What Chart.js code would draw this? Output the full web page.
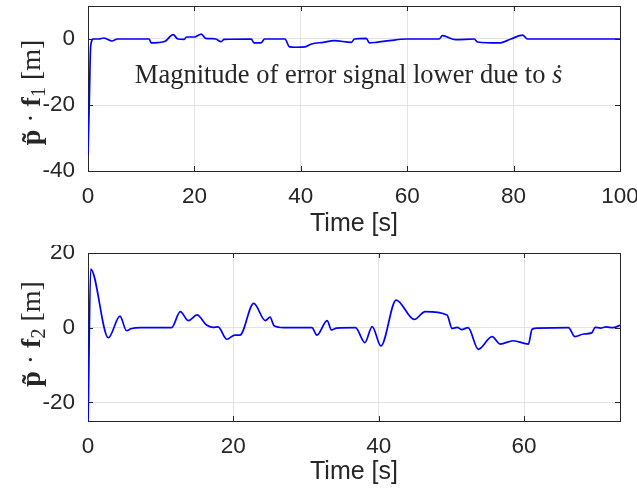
<!DOCTYPE html>
<html>
<head>
<meta charset="utf-8">
<script src="https://cdn.jsdelivr.net/npm/chart.js@4.4.0/dist/chart.umd.min.js"></script>
<style>
  body { margin: 0; background: #fff; }
  .box { position: absolute; left: 0; width: 637px; height: 245px; }
</style>
</head>
<body>
<div class="box" style="top:0"><canvas id="topChart"></canvas></div>
<div class="box" style="top:245px"><canvas id="bottomChart"></canvas></div>
<script>
// Datos
const time1 = [0, 0.25, 0.5, 1.0, 2, 3, 3.5, 4.5, 5.5, 8, 11.5, 11.9, 13, 14.5, 16, 16.9, 18.1, 18.5, 20, 21.3, 22.1, 23.3, 24, 25, 25.6, 30.7, 31.2, 32.5, 33.2, 37, 37.9, 39, 40.8, 42, 44.2, 46.3, 49.5, 50.1, 52.3, 52.9, 54.2, 56.7, 59.8, 66, 66.6, 69.1, 72.6, 73.2, 77.3, 79.5, 81.7, 82.6, 85, 100];
const error1 = [-35, -18.4, -2.2, 0, 0, 0.3, 0, -0.6, 0, 0, 0, -1.2, -1.1, -0.7, 1.3, 0, -0.1, 0.6, 0.6, 1.5, 0.2, 0.1, 0, -0.8, -0.1, 0, -1.2, -1.2, 0, 0, -2.4, -2.5, -2.4, -1.5, -1.0, -0.5, -1.0, 0, 0.2, -1.2, -1.0, -0.5, 0, 0, 1.0, -0.2, 0, -0.9, -1.2, 0, 1.2, 0, 0, 0];

const time2 = [0, 0.37, 2.8, 4.4, 5.3, 5.9, 7.2, 11.5, 12.7, 13.8, 15.0, 16.3, 17.2, 17.9, 19.1, 20.2, 20.9, 22.8, 24.4, 25.05, 25.6, 26.9, 30.8, 31.5, 32.9, 33.5, 34.2, 36.8, 38.1, 39.1, 40.3, 42.4, 44.9, 46.4, 49.4, 50.1, 50.8, 51.4, 52.3, 53.7, 55.6, 56.7, 58.5, 60.6, 61.1, 61.9, 66.1, 67.0, 68.2, 69.3, 69.8, 70.5, 71.3, 72.2, 73.2];
const error2 = [-27, 15.7, -2.7, 3.1, -0.8, -0.3, 0, 0, 4.3, 1.9, 3.4, 0.7, 0.1, 0.2, -3.1, -2.0, -2.0, 6.5, 1.9, 2.8, 0.5, 0, 0, -2.0, 1.9, -0.6, -0.1, 0, -4.0, 0.3, -4.9, 7.4, 2.2, 4.3, 3.4, -0.2, 0.1, -0.5, 0, -5.8, -2.4, -4.4, -3.5, -4.4, -0.4, -0.1, 0, -2.4, -1.7, -1.4, 0.1, -0.1, 0.2, 0, 0.6];

const xTicks1 = [0, 20, 40, 60, 80, 100];
const yTicks1 = [-40, -20, 0];
const xTicks2 = [0, 20, 40, 60];
const yTicks2 = [-20, 0, 20];

const annotText = 'Magnitude of error signal lower due to ';

const TEXT = '#262626';
const SANS = '"Liberation Sans", Arial, sans-serif';
const SERIF = '"Liberation Serif", "Times New Roman", serif';

// Caja de ejes con marcas hacia dentro (estilo MATLAB)
const boxPlugin = {
    id: 'box',
    beforeDatasetsDraw(chart) {
        const {ctx, chartArea: a, scales} = chart;
        ctx.save();
        ctx.strokeStyle = TEXT;
        ctx.lineWidth = 1;
        ctx.strokeRect(Math.round(a.left) + 0.5, Math.round(a.top) + 0.5,
            Math.round(a.right - a.left), Math.round(a.bottom - a.top));
        ctx.beginPath();
        scales.x.ticks.forEach(t => {
            const x = Math.round(scales.x.getPixelForValue(t.value)) + 0.5;
            ctx.moveTo(x, a.bottom); ctx.lineTo(x, a.bottom - 5);
            ctx.moveTo(x, a.top); ctx.lineTo(x, a.top + 5);
        });
        scales.y.ticks.forEach(t => {
            const y = Math.round(scales.y.getPixelForValue(t.value)) + 0.5;
            ctx.moveTo(a.left, y); ctx.lineTo(a.left + 5, y);
            ctx.moveTo(a.right, y); ctx.lineTo(a.right - 5, y);
        });
        ctx.stroke();
        ctx.restore();
    }
};

// Etiqueta del eje y con fuentes mezcladas
const yLabelPlugin = {
    id: 'yLabel',
    afterDraw(chart, args, opts) {
        const ctx = chart.ctx;
        const a = chart.chartArea;
        const parts = [
            {t: 'p\u0303', f: 'bold 28px ' + SERIF, dy: 0},
            {t: ' \u00b7 ', f: '28px ' + SERIF, dy: 0},
            {t: 'f', f: 'bold 28px ' + SERIF, dy: 0},
            {t: opts.sub, f: '20px ' + SERIF, dy: 5},
            {t: ' [m]', f: '28px ' + SERIF, dy: 0}
        ];
        ctx.save();
        let total = 0;
        parts.forEach(p => { ctx.font = p.f; p.w = ctx.measureText(p.t).width; total += p.w; });
        ctx.translate(40, (a.top + a.bottom) / 2 + opts.shift);
        ctx.rotate(-Math.PI / 2);
        ctx.fillStyle = TEXT;
        ctx.textBaseline = 'alphabetic';
        let x = -total / 2;
        parts.forEach(p => { ctx.font = p.f; ctx.fillText(p.t, x, p.dy); x += p.w; });
        ctx.restore();
    }
};

// Texto de anotación en el gráfico superior
const annotPlugin = {
    id: 'annot',
    afterDraw(chart, args, opts) {
        if (!opts.show) return;
        const ctx = chart.ctx;
        const x = chart.scales.x.getPixelForValue(8.8);
        const y = chart.scales.y.getPixelForValue(-13.2);
        ctx.save();
        ctx.fillStyle = TEXT;
        ctx.textBaseline = 'alphabetic';
        ctx.font = '26.5px ' + SERIF;
        ctx.fillText(annotText, x, y);
        const w = ctx.measureText(annotText).width;
        ctx.font = 'italic 26.5px ' + SERIF;
        ctx.fillText('\u1e61', x + w, y);
        ctx.restore();
    }
};

const noPad = s => { s.paddingTop = 0; s.paddingBottom = 0; s.paddingLeft = 0; s.paddingRight = 0; };

function makeChart(id, times, values, xTicks, yTicks, xMax, yMin, yMax, cfg) {
    return new Chart(document.getElementById(id), {
        type: 'line',
        data: {
            datasets: [{
                data: times.map((t, i) => ({x: t, y: values[i]})),
                borderColor: '#0000ff',
                borderWidth: 1.7,
                pointRadius: 0,
                cubicInterpolationMode: 'monotone',
                fill: false
            }]
        },
        options: {
            responsive: true,
            maintainAspectRatio: false,
            animation: false,
            layout: { padding: { left: 0, right: 17, top: cfg.top, bottom: 0 } },
            plugins: {
                legend: { display: false },
                tooltip: { enabled: false },
                yLabel: { sub: cfg.sub, shift: cfg.shift },
                annot: { show: cfg.annot }
            },
            scales: {
                x: {
                    type: 'linear',
                    min: 0, max: xMax,
                    afterFit: s => { s.height = cfg.xHeight; noPad(s); },
                    afterBuildTicks: s => { s.ticks = xTicks.map(v => ({value: v})); },
                    grid: { color: '#e3e3e3', drawTicks: false },
                    border: { display: false },
                    ticks: { color: TEXT, font: { family: SANS, size: 22.5 }, padding: 12, maxRotation: 0 },
                    title: { display: true, text: 'Time [s]', color: TEXT,
                             font: { family: SANS, size: 25 }, padding: { top: 0, bottom: cfg.titlePad } }
                },
                y: {
                    min: yMin, max: yMax,
                    afterFit: s => { s.width = 88; noPad(s); },
                    afterBuildTicks: s => { s.ticks = yTicks.map(v => ({value: v})); },
                    grid: { color: '#e3e3e3', drawTicks: false },
                    border: { display: false },
                    ticks: { color: TEXT, font: { family: SANS, size: 22.5 }, padding: 13 }
                }
            }
        },
        plugins: [boxPlugin, yLabelPlugin, annotPlugin]
    });
}

makeChart('topChart', time1, error1, xTicks1, yTicks1, 100, -40, 10,
    { top: 6, xHeight: 74, titlePad: 6, sub: '1', shift: 4, annot: true });
makeChart('bottomChart', time2, error2, xTicks2, yTicks2, 73.2, -25, 20,
    { top: 8, xHeight: 69, titlePad: 3, sub: '2', shift: -3, annot: false });
</script>
</body>
</html>
